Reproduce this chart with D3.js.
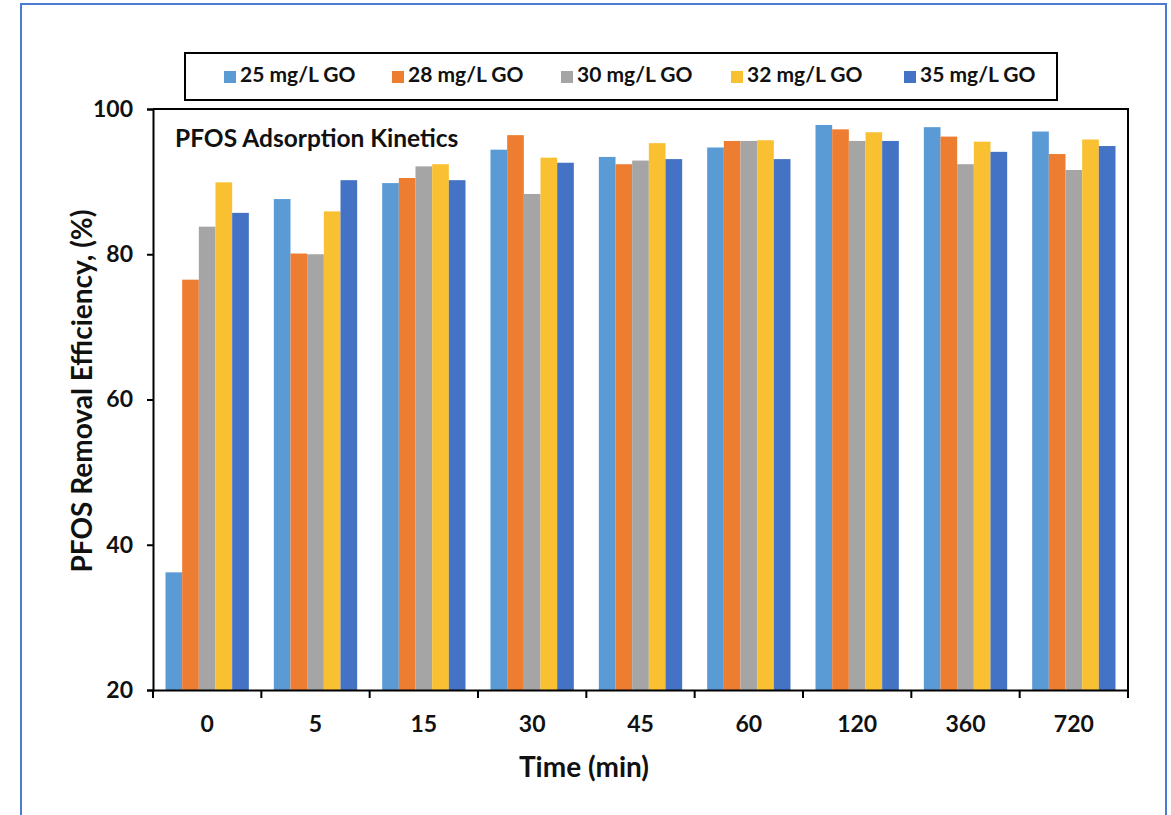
<!DOCTYPE html>
<html>
<head>
<meta charset="utf-8">
<script src="https://cdn.jsdelivr.net/npm/d3@7"></script>
<style>
  html, body { margin: 0; padding: 0; background: #fff; }
  svg { display: block; font-family: Lato, "Open Sans", sans-serif; font-weight: 700; }
</style>
</head>
<body>
<svg id="chart" width="1171" height="815"></svg>
<script>
// Sampling times (min) and GO dosages
const times = ["0", "5", "15", "30", "45", "60", "120", "360", "720"];
const series = ["25 mg/L GO", "28 mg/L GO", "30 mg/L GO", "32 mg/L GO", "35 mg/L GO"];
const colors = ["#5B9BD5", "#ED7D31", "#A5A5A5", "#F9C032", "#4472C4"];

// PFOS removal efficiency (%) per dosage, one value per sampling time
const go25 = [36.2, 87.6, 89.8, 94.4, 93.4, 94.7, 97.8, 97.5, 96.9];
const go28 = [76.5, 80.1, 90.5, 96.4, 92.4, 95.6, 97.2, 96.2, 93.8];
const go30 = [83.8, 80.0, 92.1, 88.3, 92.9, 95.6, 95.6, 92.4, 91.6];
const go32 = [89.9, 85.9, 92.4, 93.3, 95.3, 95.7, 96.8, 95.5, 95.8];
const go35 = [85.7, 90.2, 90.2, 92.6, 93.1, 93.1, 95.6, 94.1, 94.9];
const values = [go25, go28, go30, go32, go35];

const yTicks = [20, 40, 60, 80, 100];

const svg = d3.select("#chart");

// outer chart frame
svg.append("rect")
  .attr("x", 21).attr("y", 4)
  .attr("width", 1145).attr("height", 830)
  .attr("fill", "none").attr("stroke", "#4A7BD0").attr("stroke-width", 2);

const plot = { left: 153, right: 1128, top: 109, bottom: 690 };

const x0 = d3.scaleBand().domain(times).range([plot.left, plot.right]);
const gap = x0.bandwidth() * 1.5 / 6.5;
const x1 = d3.scaleBand().domain(series).range([gap / 2, x0.bandwidth() - gap / 2]);
const y = d3.scaleLinear().domain([20, 100]).range([plot.bottom, plot.top]);

// bars
const groups = svg.append("g").selectAll("g")
  .data(times)
  .join("g")
  .attr("transform", d => `translate(${x0(d)},0)`);

groups.selectAll("rect")
  .data((t, i) => series.map((s, k) => ({ s, k, v: values[k][i] })))
  .join("rect")
  .attr("x", d => x1(d.s))
  .attr("width", x1.bandwidth())
  .attr("y", d => y(d.v))
  .attr("height", d => y(20) - y(d.v))
  .attr("fill", d => colors[d.k]);

// plot frame (top and right edges)
svg.append("path")
  .attr("d", `M${plot.left},${plot.top}H${plot.right}V${plot.bottom}`)
  .attr("fill", "none").attr("stroke", "#000").attr("stroke-width", 2);

// y axis
const yAxis = svg.append("g")
  .attr("transform", `translate(${plot.left},0)`)
  .call(d3.axisLeft(y).tickValues(yTicks).tickSize(6).tickPadding(14));
yAxis.select(".domain").attr("stroke", "#000").attr("stroke-width", 2);
yAxis.selectAll(".tick line").attr("stroke", "#000").attr("stroke-width", 2);
yAxis.selectAll(".tick text")
  .attr("font-size", 23).attr("font-family", "Lato").attr("font-weight", 700).attr("fill", "#111");

// x axis: ticks sit on the category boundaries
const xAxis = svg.append("g")
  .attr("transform", `translate(0,${plot.bottom})`)
  .call(d3.axisBottom(x0).tickSize(0).tickPadding(26));
xAxis.select(".domain").attr("stroke", "#000").attr("stroke-width", 2);
xAxis.selectAll(".tick text")
  .attr("font-size", 23).attr("font-family", "Lato").attr("font-weight", 700).attr("fill", "#111");
xAxis.selectAll(".boundary")
  .data(times.concat(["end"]))
  .join("line")
  .attr("class", "boundary")
  .attr("x1", (d, i) => i < times.length ? x0(d) : plot.right)
  .attr("x2", (d, i) => i < times.length ? x0(d) : plot.right)
  .attr("y1", 0).attr("y2", 8)
  .attr("stroke", "#000").attr("stroke-width", 2);

// axis titles
svg.append("text")
  .attr("x", 584).attr("y", 777)
  .attr("text-anchor", "middle")
  .attr("font-size", 28).attr("fill", "#111")
  .text("Time (min)");

svg.append("text")
  .attr("transform", "translate(92,391) rotate(-90)")
  .attr("text-anchor", "middle")
  .attr("font-size", 28).attr("fill", "#111")
  .text("PFOS Removal Efficiency, (%)");

// inner title
svg.append("text")
  .attr("x", 175).attr("y", 147)
  .attr("font-size", 24.5).attr("fill", "#111")
  .text("PFOS Adsorption Kinetics");

// legend
svg.append("rect")
  .attr("x", 185).attr("y", 53)
  .attr("width", 872).attr("height", 47)
  .attr("fill", "#fff").attr("stroke", "#000").attr("stroke-width", 2);

const legendX = [240, 408, 577, 747, 920];
const legend = svg.append("g").selectAll("g")
  .data(series)
  .join("g")
  .attr("transform", (d, i) => `translate(${legendX[i]},0)`);
legend.append("rect")
  .attr("x", -16).attr("y", 71)
  .attr("width", 12).attr("height", 12)
  .attr("fill", (d, i) => colors[i]);
legend.append("text")
  .attr("x", 0).attr("y", 82)
  .attr("font-size", 21).attr("fill", "#111")
  .text(d => d);
</script>
</body>
</html>
